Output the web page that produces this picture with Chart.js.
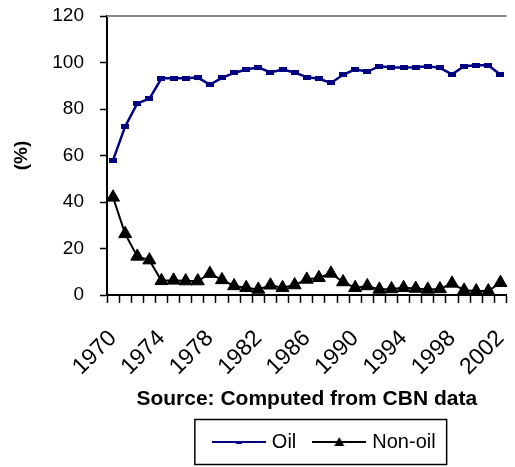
<!DOCTYPE html>
<html>
<head>
<meta charset="utf-8">
<script src="https://cdn.jsdelivr.net/npm/chart.js@4.4.1/dist/chart.umd.min.js"></script>
<style>
  html, body { margin: 0; padding: 0; background: #fff; overflow: hidden; }
  #wrap { width: 515px; height: 467px; }
</style>
</head>
<body>
<div id="wrap"><canvas id="shareChart"></canvas></div>
<script>
const years = ['1970', '1971', '1972', '1973', '1974', '1975', '1976', '1977', '1978', '1979',
  '1980', '1981', '1982', '1983', '1984', '1985', '1986', '1987', '1988', '1989',
  '1990', '1991', '1992', '1993', '1994', '1995', '1996', '1997', '1998', '1999',
  '2000', '2001', '2002'];
const oilShare = [58, 72.5, 82.4, 84.4, 93.2, 93.2, 93.2, 93.5, 90.5, 93.4,
  95.5, 97, 97.9, 95.7, 97, 95.7, 93.7, 93, 91.2, 94.7,
  97.1, 96, 98.4, 97.8, 97.8, 98, 98.4, 97.7, 94.9, 98.4,
  98.8, 98.8, 94.7];
const nonOilShare = [42, 26.3, 16.6, 15, 6.1, 6.3, 6, 6, 9.2, 6.5,
  3.9, 3.1, 2.4, 4.2, 3.1, 4.3, 6.7, 7.4, 9.3, 5.6,
  3.1, 3.9, 2.4, 2.6, 3.1, 2.8, 2.4, 2.6, 5, 2,
  1.7, 1.7, 5.3];
const yTicks = [0, 20, 40, 60, 80, 100, 120];

const FONT = '"Liberation Sans", Arial, sans-serif';
const NAVY = '#000080';

// small dash marker used on the oil line
function dashMarker() {
  const c = document.createElement('canvas');
  c.width = 8; c.height = 5;
  const g = c.getContext('2d');
  g.fillStyle = NAVY;
  g.fillRect(0, 0, 8, 5);
  return c;
}

// legend samples: line with marker in the middle
function legendSample(kind) {
  const c = document.createElement('canvas');
  c.width = 54; c.height = 14;
  const g = c.getContext('2d');
  g.strokeStyle = kind === 'oil' ? NAVY : '#000';
  g.lineWidth = 2;
  g.beginPath();
  g.moveTo(0, 7); g.lineTo(54, 7);
  g.stroke();
  if (kind === 'oil') {
    g.fillStyle = NAVY;
    g.fillRect(24, 6, 6, 3);
  } else {
    g.fillStyle = '#000';
    g.beginPath();
    g.moveTo(27, 2); g.lineTo(32, 11); g.lineTo(22, 11);
    g.closePath();
    g.fill();
  }
  return c;
}

const legendStyles = [legendSample('oil'), legendSample('nonoil')];

const frame = {
  id: 'frame',
  afterLayout(chart) {
    chart.legend.left += 19;
    chart.legend.right += 19;
  },
  beforeDatasetsDraw(chart) {
    // grey plot-area border along the top
    const a = chart.chartArea;
    const ctx = chart.ctx;
    ctx.save();
    ctx.strokeStyle = '#888';
    ctx.lineWidth = 2;
    ctx.beginPath();
    ctx.moveTo(a.left, a.top);
    ctx.lineTo(a.right, a.top);
    ctx.stroke();
    ctx.restore();
  },
  afterDraw(chart) {
    const hb = chart.legend.legendHitBoxes;
    if (!hb || !hb.length) return;
    const first = hb[0], last = hb[hb.length - 1];
    const cy = first.top + 10;
    const ctx = chart.ctx;
    ctx.save();
    ctx.strokeStyle = '#000';
    ctx.lineWidth = 1.5;
    ctx.strokeRect(first.left - 21, cy - 22.5, last.left + last.width - first.left + 32, 45);
    ctx.restore();
  }
};

new Chart(document.getElementById('shareChart'), {
  type: 'line',
  data: {
    labels: years,
    datasets: [{
      label: 'Oil',
      data: oilShare,
      borderColor: NAVY,
      backgroundColor: NAVY,
      borderWidth: 2.5,
      pointStyle: dashMarker(),
      pointRadius: 4,
      tension: 0
    }, {
      label: 'Non-oil',
      data: nonOilShare,
      borderColor: '#000',
      backgroundColor: '#000',
      borderWidth: 2,
      pointStyle: 'triangle',
      pointRadius: 7.5,
      pointBorderWidth: 1,
      tension: 0
    }]
  },
  options: {
    responsive: true,
    maintainAspectRatio: false,
    animation: false,
    layout: {
      padding: { top: 16, left: 0, right: 0, bottom: 5 }
    },
    plugins: {
      tooltip: { enabled: false },
      legend: {
        position: 'bottom',
        fullSize: false,
        labels: {
          usePointStyle: true,
          pointStyleWidth: 46,
          padding: 20,
          color: '#000',
          font: { family: FONT, size: 20 },
          generateLabels(chart) {
            const items = Chart.defaults.plugins.legend.labels.generateLabels(chart);
            items.forEach((it, i) => { it.pointStyle = legendStyles[i]; });
            return items;
          }
        }
      }
    },
    scales: {
      x: {
        offset: true,
        afterFit(scale) {
          scale.paddingLeft = 0;
          scale.paddingRight = 0;
          scale.height = 117;
        },
        grid: {
          offset: true,
          drawOnChartArea: false,
          tickLength: 8,
          tickColor: '#000',
          tickWidth: 1.5
        },
        border: { color: '#000', width: 2 },
        ticks: {
          autoSkip: false,
          maxRotation: 45,
          minRotation: 45,
          padding: 22,
          color: '#000',
          font: { family: FONT, size: 23 },
          callback(value, index) {
            return index % 4 === 0 ? years[index] : '';
          }
        },
        title: {
          display: true,
          text: 'Source: Computed from CBN data',
          color: '#000',
          font: { family: FONT, size: 21, weight: 'bold' },
          padding: { top: 10, bottom: 0 }
        }
      },
      y: {
        min: 0,
        max: 120,
        afterBuildTicks(scale) {
          scale.ticks = yTicks.map(v => ({ value: v }));
        },
        afterFit(scale) {
          scale.width = 107;
          scale.paddingTop = 0;
          scale.paddingBottom = 0;
        },
        grid: {
          drawOnChartArea: false,
          tickLength: 7,
          tickColor: '#000',
          tickWidth: 1.5
        },
        border: { color: '#000', width: 2 },
        ticks: {
          padding: 16,
          color: '#000',
          font: { family: FONT, size: 19 }
        },
        title: {
          display: true,
          text: '(%)',
          color: '#000',
          font: { family: FONT, size: 19, weight: 'bold' },
          padding: { top: 10, bottom: 19 }
        }
      }
    }
  },
  plugins: [frame]
});
</script>
</body>
</html>
